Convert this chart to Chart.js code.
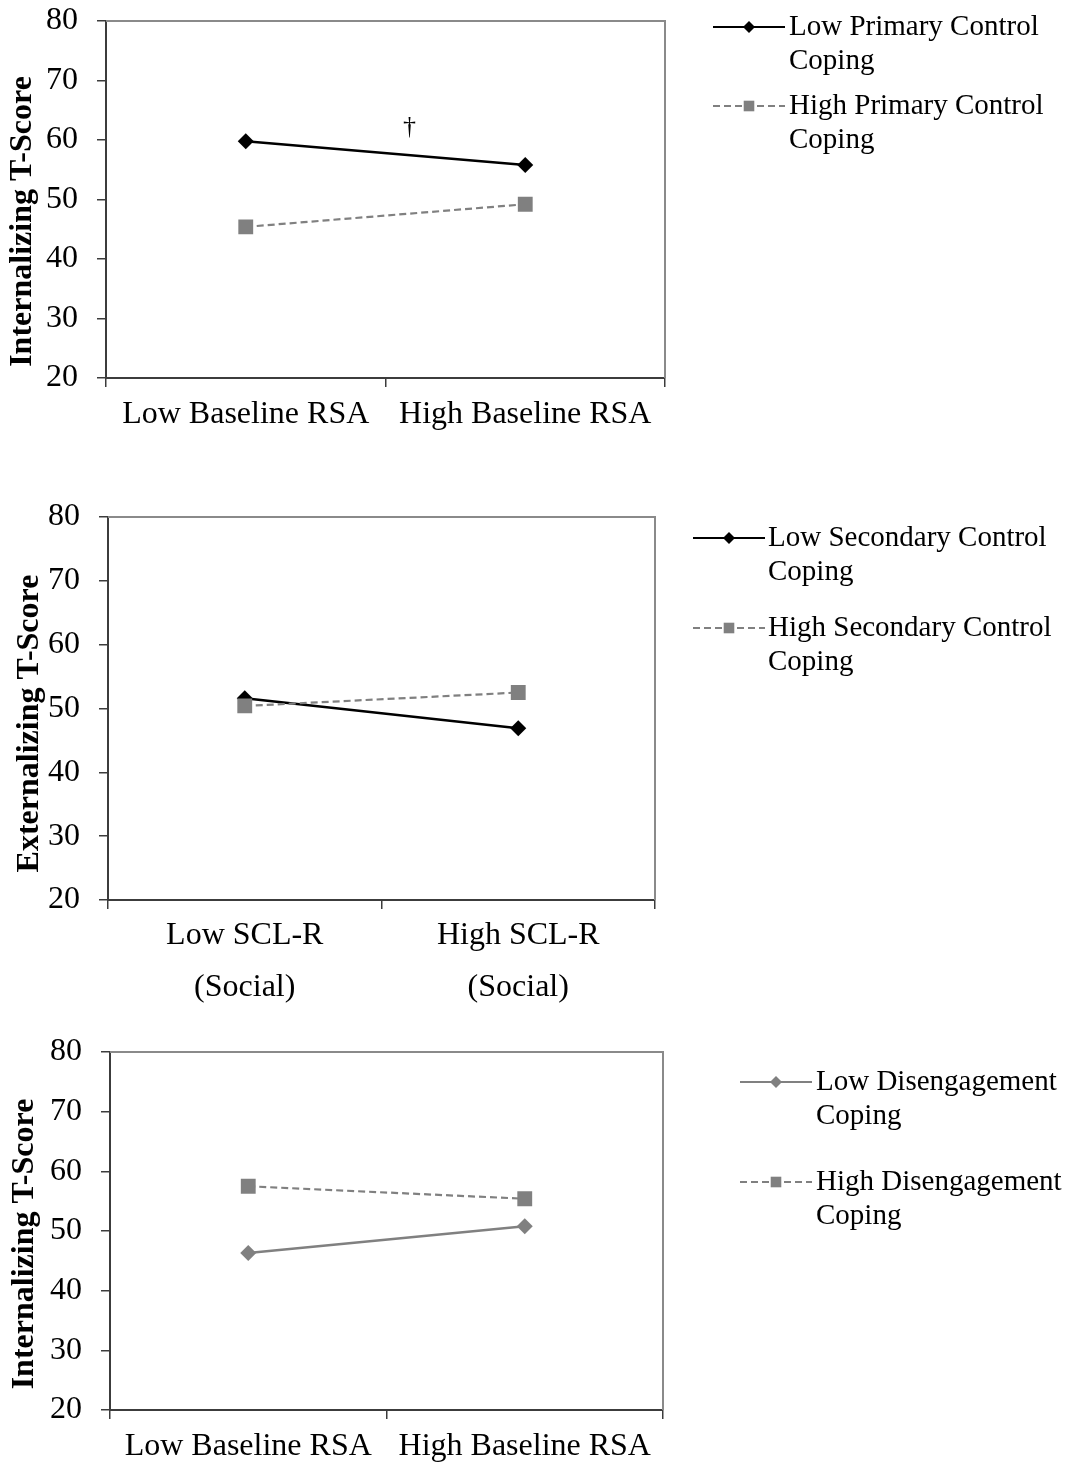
<!DOCTYPE html>
<html>
<head>
<meta charset="utf-8">
<title>Coping x physiology interactions</title>
<script src="https://cdn.jsdelivr.net/npm/chart.js@4.4.1/dist/chart.umd.min.js"></script>
<style>
  body { margin: 0; background: #fff; }
  .panel { position: absolute; left: 0; width: 1073px; }
</style>
</head>
<body>
<div class="panel" style="top:-20px"><canvas id="chart1" width="1073" height="470"></canvas></div>
<div class="panel" style="top:470px"><canvas id="chart2" width="1073" height="560"></canvas></div>
<div class="panel" style="top:1010px"><canvas id="chart3" width="1073" height="455"></canvas></div>
<script>
// axis values
const yTicks = [20, 30, 40, 50, 60, 70, 80];
const rsaLabels = ['Low Baseline RSA', 'High Baseline RSA'];
const sclLabels = [['Low SCL-R', '(Social)'], ['High SCL-R', '(Social)']];

// series (T-scores)
const lowPrimary = [59.8, 55.8];
const highPrimary = [45.4, 49.2];
const lowSecondary = [51.6, 46.9];
const highSecondary = [50.4, 52.5];
const lowDiseng = [46.3, 50.8];
const highDiseng = [57.5, 55.4];

// legend text, already wrapped like the original
const primaryNames = [['Low Primary Control', 'Coping'], ['High Primary Control', 'Coping']];
const secondaryNames = [['Low Secondary Control', 'Coping'], ['High Secondary Control', 'Coping']];
const disengNames = [['Low Disengagement', 'Coping'], ['High Disengagement', 'Coping']];

const FONT = '"Liberation Serif", "Times New Roman", serif';
const GRAY = '#808080';
const AXIS = '#3c3c3c';

// frame, rotated y title, side legend and the dagger note
const decorPlugin = {
  id: 'decor',
  afterDatasetsDraw(chart, args, opts) {
    const ctx = chart.ctx;
    const a = chart.chartArea;
    ctx.save();
    ctx.strokeStyle = '#8a8a8a';
    ctx.lineWidth = 2;
    ctx.beginPath();
    ctx.moveTo(a.left, a.top);
    ctx.lineTo(a.right, a.top);
    ctx.lineTo(a.right, a.bottom);
    ctx.stroke();
    ctx.restore();

    // y axis title
    ctx.save();
    ctx.translate(opts.titleX, (a.top + a.bottom) / 2 + opts.titleShift);
    ctx.rotate(-Math.PI / 2);
    ctx.font = 'bold 32px ' + FONT;
    ctx.fillStyle = '#000';
    ctx.textAlign = 'center';
    ctx.textBaseline = 'middle';
    ctx.fillText(opts.title, 0, 0);
    ctx.restore();

    // legend
    chart.data.datasets.forEach(function(ds, i) {
      const y = a.top + opts.legendTop + i * opts.legendGap;
      const x0 = opts.legendX;
      ctx.save();
      ctx.strokeStyle = ds.borderColor;
      ctx.lineWidth = 2;
      ctx.setLineDash(ds.borderDash || []);
      ctx.beginPath();
      ctx.moveTo(x0, y);
      ctx.lineTo(x0 + 72, y);
      ctx.stroke();
      ctx.setLineDash([]);
      ctx.fillStyle = ds.pointBackgroundColor;
      ctx.strokeStyle = ds.pointBackgroundColor;
      Chart.helpers.drawPoint(ctx, {
        pointStyle: ds.pointStyle,
        radius: ds.pointStyle === 'rect' ? 7.5 : 6,
        rotation: 0,
        borderWidth: 0
      }, x0 + 36, y);
      ctx.font = '29px ' + FONT;
      ctx.fillStyle = '#000';
      ctx.textAlign = 'left';
      ctx.textBaseline = 'middle';
      ds.legendLines.forEach(function(line, k) {
        ctx.fillText(line, opts.legendText, y + k * 34);
      });
      ctx.restore();
    });

    if (opts.note) {
      ctx.save();
      ctx.font = '26px ' + FONT;
      ctx.fillStyle = '#000';
      ctx.textAlign = 'center';
      ctx.textBaseline = 'middle';
      const nx = a.left + (a.right - a.left) * opts.note.frac;
      const ny = chart.scales.y.getPixelForValue(opts.note.value);
      ctx.fillText(opts.note.text, nx, ny);
      ctx.restore();
    }
  }
};

function lineSet(names, i, values, color, dashed, style) {
  return {
    label: names[i].join(' '),
    legendLines: names[i],
    data: values,
    borderColor: color,
    backgroundColor: color,
    borderWidth: dashed ? 2.2 : 2.5,
    borderDash: dashed ? [7, 4] : [],
    pointStyle: style,
    pointRadius: style === 'rect' ? 10.5 : 8,
    pointBackgroundColor: color,
    pointBorderColor: color,
    pointBorderWidth: 0,
    order: dashed ? 0 : 1,
    tension: 0
  };
}

function makeChart(id, labels, datasets, box) {
  const canvas = document.getElementById(id);
  const H = canvas.height;
  return new Chart(canvas, {
    type: 'line',
    data: { labels: labels, datasets: datasets },
    options: {
      responsive: false,
      animation: false,
      layout: { padding: { top: box.top, right: 1073 - box.right, left: 0, bottom: 0 } },
      plugins: {
        legend: { display: false },
        tooltip: { enabled: false },
        decor: box.decor
      },
      scales: {
        x: {
          offset: true,
          grid: { offset: true, drawOnChartArea: false, tickLength: 9, color: AXIS, lineWidth: 1.5 },
          border: { color: AXIS, width: 2 },
          ticks: {
            color: '#000',
            padding: box.xPad,
            maxRotation: 0,
            autoSkip: false,
            font: { family: FONT, size: 32, lineHeight: box.xLine }
          },
          afterFit: function(s) { s.height = H - box.bottom; }
        },
        y: {
          min: 20,
          max: 80,
          afterBuildTicks: function(s) { s.ticks = yTicks.map(function(v) { return { value: v }; }); },
          grid: { drawOnChartArea: false, tickLength: 9, color: AXIS, lineWidth: 1.5 },
          border: { color: AXIS, width: 2 },
          ticks: { color: '#000', padding: 19, font: { family: FONT, size: 32 } },
          afterFit: function(s) { s.width = box.left; }
        }
      }
    },
    plugins: [decorPlugin]
  });
}

// box values are canvas-local pixels
makeChart('chart1', rsaLabels, [
  lineSet(primaryNames, 0, lowPrimary, '#000', false, 'rectRot'),
  lineSet(primaryNames, 1, highPrimary, GRAY, true, 'rect')
], {
  top: 41, left: 106, right: 665, bottom: 398, xPad: 8, xLine: 1.2,
  decor: {
    title: 'Internalizing T-Score', titleX: 23, titleShift: 22,
    legendX: 713, legendText: 789, legendTop: 6, legendGap: 79,
    note: { text: '\u2020', value: 62.2, frac: 0.543 }
  }
});

makeChart('chart2', sclLabels, [
  lineSet(secondaryNames, 0, lowSecondary, '#000', false, 'rectRot'),
  lineSet(secondaryNames, 1, highSecondary, GRAY, true, 'rect')
], {
  top: 47, left: 108, right: 655, bottom: 430, xPad: 1, xLine: 52 / 32,
  decor: {
    title: 'Externalizing T-Score', titleX: 30, titleShift: 15,
    legendX: 693, legendText: 768, legendTop: 21, legendGap: 90
  }
});

makeChart('chart3', rsaLabels, [
  lineSet(disengNames, 0, lowDiseng, GRAY, false, 'rectRot'),
  lineSet(disengNames, 1, highDiseng, GRAY, true, 'rect')
], {
  top: 42, left: 110, right: 663, bottom: 400, xPad: 8, xLine: 1.2,
  decor: {
    title: 'Internalizing T-Score', titleX: 25, titleShift: 13,
    legendX: 740, legendText: 816, legendTop: 30, legendGap: 100
  }
});
</script>
</body>
</html>
